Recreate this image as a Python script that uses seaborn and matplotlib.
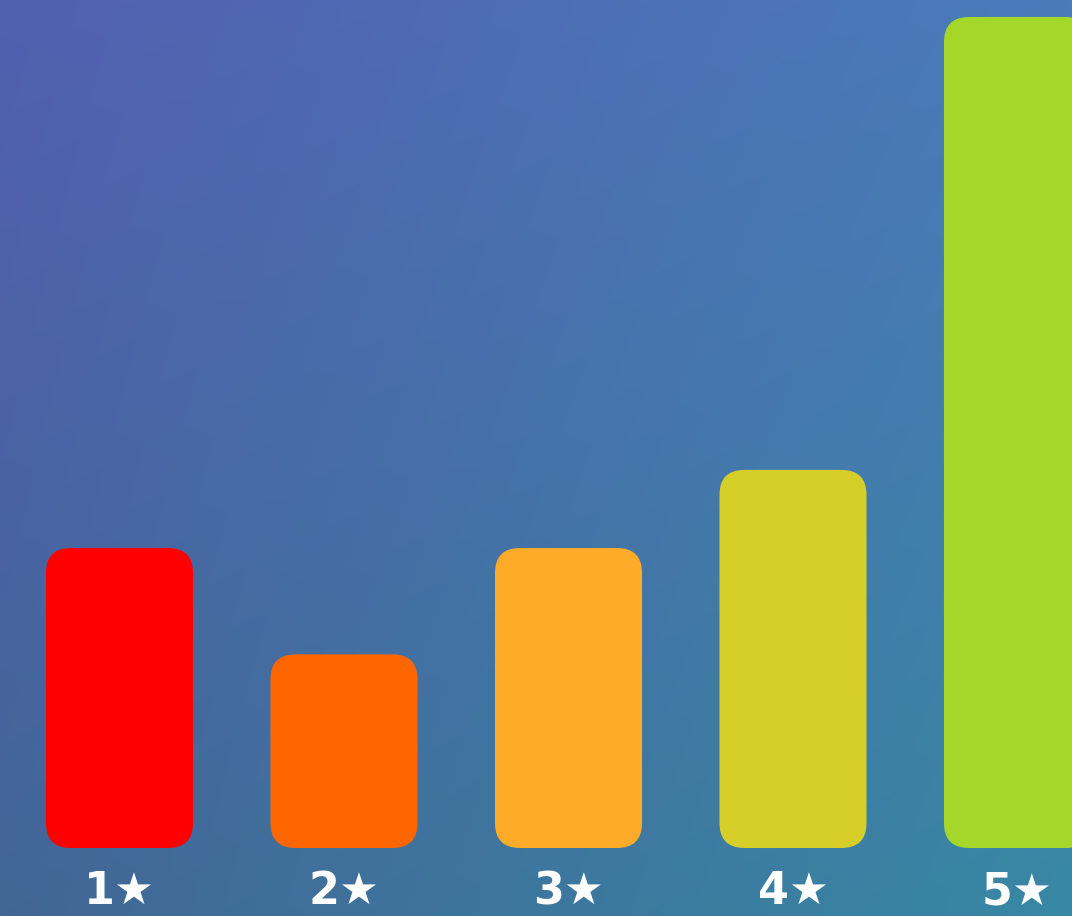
import numpy as np
import pandas as pd
import matplotlib
matplotlib.use("Agg")
import matplotlib.pyplot as plt
import seaborn as sns
from matplotlib.patches import FancyBboxPatch

# ---- data ----
ratings = ["1★", "2★", "3★", "4★", "5★"]
values = [36.1, 23.3, 36.1, 45.5, 100.0]
colors = ["#ff0000", "#ff6600", "#fdab28", "#d6cf29", "#a4d729"]

W, H = 1072, 916
sns.set_theme(style="white")
plt.rcParams["font.family"] = ["DejaVu Sans"]

fig = plt.figure(figsize=(W / 100, H / 100), dpi=100)

# background gradient
bg = fig.add_axes([0, 0, 1, 1])
bg.axis("off")
tl = np.array([82, 96, 176]) / 255
tr = np.array([74, 124, 186]) / 255
bl = np.array([66, 102, 150]) / 255
br = np.array([56, 136, 164]) / 255
ny, nx = 200, 200
u = np.linspace(0, 1, nx)[None, :, None]
v = np.linspace(0, 1, ny)[:, None, None]
img = (1 - v) * ((1 - u) * tl + u * tr) + v * ((1 - u) * bl + u * br)
bg.imshow(img, aspect="auto", extent=[0, 1, 0, 1], interpolation="bilinear")
bg.set_xlim(0, 1)
bg.set_ylim(0, 1)

# bars
base_px = 68
ax = fig.add_axes([0, base_px / H, 1, (H - base_px) / H])
ax.patch.set_alpha(0)
df = pd.DataFrame({"rating": ratings, "value": values})
sns.barplot(data=df, x="rating", y="value", hue="rating", palette=colors,
            width=0.655, saturation=1, legend=False, ax=ax)

px_per_x = 224.5
px_per_y = 8.31
c0 = 119.5
ax.set_xlim(-c0 / px_per_x, (W - c0) / px_per_x)
ax.set_ylim(0, (H - base_px) / px_per_y)

radius_px = 25
r = radius_px / px_per_x
aspect = (1 / px_per_y) / (1 / px_per_x)
for p in list(ax.patches):
    x, y = p.get_x(), p.get_y()
    w, h = p.get_width(), p.get_height()
    fc = p.get_facecolor()
    p.set_visible(False)
    ax.add_patch(FancyBboxPatch((x, y), w, h,
                                boxstyle=f"round,pad=0,rounding_size={r}",
                                mutation_aspect=aspect, fc=fc, ec="none"))

for s in ax.spines.values():
    s.set_visible(False)
ax.set_xlabel("")
ax.set_ylabel("")
ax.set_yticks([])
ax.tick_params(axis="x", length=0, pad=16, labelsize=32, labelcolor="white")
for t in ax.get_xticklabels():
    t.set_fontweight("bold")

fig.savefig("out.png", dpi=100)
